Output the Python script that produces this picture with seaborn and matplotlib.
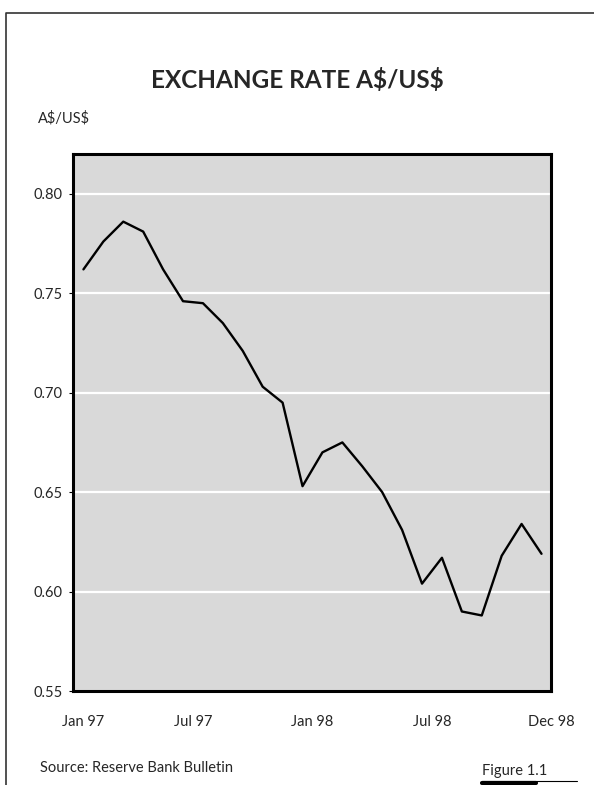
import matplotlib
matplotlib.use("Agg")
import matplotlib.pyplot as plt
import seaborn as sns
import numpy as np
import pandas as pd

# monthly A$/US$ exchange rate, Jan 1997 - Dec 1998
months = pd.date_range("1997-01-01", "1998-12-01", freq="MS")
rates = [0.762, 0.776, 0.786, 0.781, 0.762, 0.746, 0.745, 0.735, 0.721, 0.703,
         0.695, 0.653, 0.670, 0.675, 0.663, 0.650, 0.631, 0.604, 0.617, 0.590,
         0.588, 0.618, 0.634, 0.619]
x_labels = ["Jan 97", "Jul 97", "Jan 98", "Jul 98", "Dec 98"]
x_label_pos = [0, 5.5, 11.5, 17.5, 23.5]
y_ticks = [0.55, 0.60, 0.65, 0.70, 0.75, 0.80]

df = pd.DataFrame({"idx": np.arange(len(months)), "rate": rates})

sns.set_style("white")
plt.rcParams["font.family"] = ["Lato", "DejaVu Sans"]

fig = plt.figure(figsize=(5.94, 7.85), dpi=100)
ax = fig.add_axes([0.1237, 0.1197, 0.8047, 0.6841])
ax.set_facecolor("#d9d9d9")

for v in y_ticks[1:]:
    ax.axhline(v, color="white", lw=1.6, zorder=1)

sns.lineplot(data=df, x="idx", y="rate", ax=ax, color="black", lw=1.7, zorder=3)

ax.set_xlim(-0.5, 23.5)
ax.set_ylim(0.55, 0.82)
ax.set_yticks(y_ticks)
ax.set_yticklabels([f"{v:.2f}" for v in y_ticks])
ax.set_xticks(x_label_pos)
ax.set_xticklabels(x_labels)
ax.set_xticks(np.arange(-0.5, 24, 3), minor=True)
ax.tick_params(axis="x", which="major", length=0, pad=17, labelsize=10.5)
ax.tick_params(axis="x", which="minor", length=2.5, width=0.8, color="black", direction="out")
ax.tick_params(axis="y", length=3, width=0.8, color="black", pad=5, labelsize=10.5, left=True)
ax.set_xlabel("")
ax.set_ylabel("")
for s in ax.spines.values():
    s.set_linewidth(2.2)
    s.set_color("black")

fig.text(0.5, 0.898, "EXCHANGE RATE A\\$/US\\$", ha="center", va="center",
         fontsize=17.5, fontweight="bold")
fig.text(0.064, 0.85, "A\\$/US\\$", ha="left", va="center", fontsize=10.5)
fig.text(0.067, 0.022, "Source: Reserve Bank Bulletin", ha="left", va="center", fontsize=10.5)
fig.text(0.812, 0.018, "Figure 1.1", ha="left", va="center", fontsize=10.5)

# frame and underline decoration
fig.add_artist(plt.Line2D([0.0105, 0.0105, 1.0], [0.0, 0.983, 0.983], color="#333333", lw=1.2))
fig.add_artist(plt.Line2D([0.811, 0.971], [0.0055, 0.0055], color="black", lw=0.8))
fig.add_artist(plt.Line2D([0.811, 0.903], [0.002, 0.002], color="black", lw=3))

fig.savefig("out.png", dpi=100)
